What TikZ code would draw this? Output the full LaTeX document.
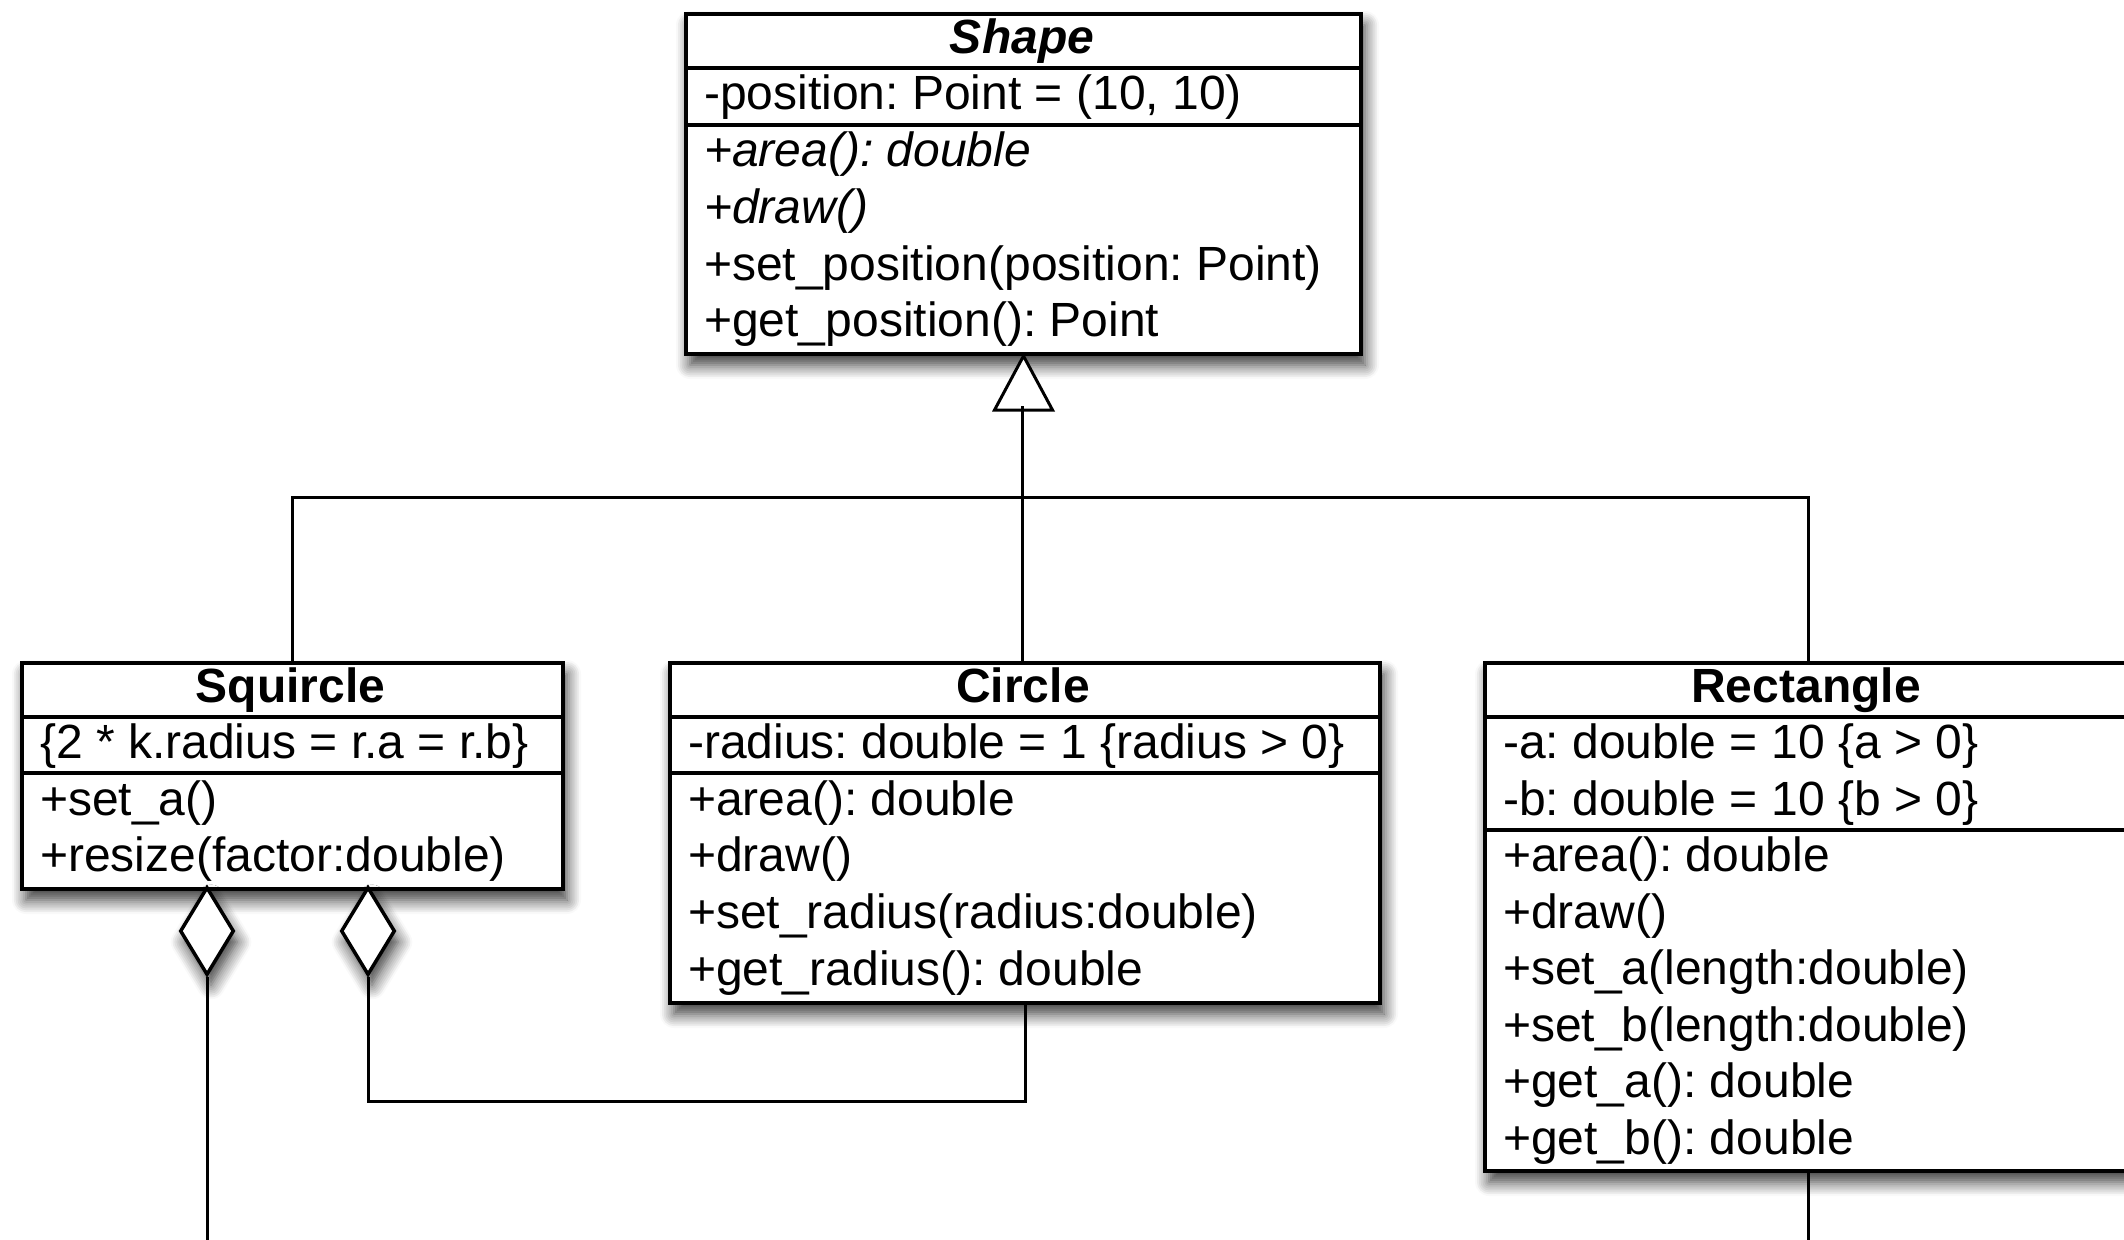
\documentclass[tikz,border=0pt]{standalone}
\usepackage{fontspec}
\setmainfont{Liberation Sans}
\usetikzlibrary{shapes.geometric,shadows.blur}
\frenchspacing
\tikzset{
  shd/.style={blur shadow={shadow xshift=4pt, shadow yshift=-11pt, shadow blur radius=14pt, shadow opacity=80, shadow blur steps=8}},
  cls/.style={draw=black, line width=4pt, fill=white, anchor=north west, inner sep=0pt, shd},
  sepline/.style={line width=4pt},
  txt/.style={anchor=base west, inner sep=0pt, font=\fontsize{48}{56}\selectfont},
  ttl/.style={anchor=base, inner sep=0pt, font=\fontsize{48}{56}\selectfont\bfseries},
  conn/.style={line width=3pt},
  agg/.style={diamond, draw=black, line width=3.5pt, fill=white, minimum width=54pt, minimum height=88pt, inner sep=0pt, shd},
}
\begin{document}
\begin{tikzpicture}[x=1pt,y=-1pt]
\useasboundingbox (0,0) rectangle (2124,1239);
\clip (0,0) rectangle (2124,1239);
% Shape
\node[cls, minimum width=675pt, minimum height=340pt] (shape) at (684,12) {};
\draw[sepline] (shape.west |- 0,68) -- (shape.east |- 0,68);
\draw[sepline] (shape.west |- 0,125) -- (shape.east |- 0,125);
\node[ttl, font=\fontsize{48}{56}\selectfont\bfseries\itshape] (shapeT) at (1022,53) {Shape};
\node[txt] (shapeA1) at (704,109) {-position: Point = (10, 10)};
\node[txt, font=\fontsize{48}{56}\selectfont\itshape] (shapeM1) at (704,166) {+area(): double};
\node[txt, font=\fontsize{48}{56}\selectfont\itshape] (shapeM2) at (704,223) {+draw()};
\node[txt] (shapeM3) at (704,280) {+set\_position(position: Point)};
\node[txt] (shapeM4) at (704,336) {+get\_position(): Point};
% Squircle
\node[cls, minimum width=541pt, minimum height=226pt] (sq) at (20,661) {};
\draw[sepline] (sq.west |- 0,717) -- (sq.east |- 0,717);
\draw[sepline] (sq.west |- 0,773) -- (sq.east |- 0,773);
\node[ttl] (sqT) at (290.5,702) {Squircle};
\node[txt] (sqA1) at (40,758) {\{2 * k.radius = r.a = r.b\}};
\node[txt] (sqM1) at (40,815) {+set\_a()};
\node[txt] (sqM2) at (40,871) {+resize(factor:double)};
% Circle
\node[cls, minimum width=710pt, minimum height=340pt] (ci) at (668,661) {};
\draw[sepline] (ci.west |- 0,717) -- (ci.east |- 0,717);
\draw[sepline] (ci.west |- 0,773) -- (ci.east |- 0,773);
\node[ttl] (ciT) at (1023,702) {Circle};
\node[txt] (ciA1) at (688,758) {-radius: double = 1 \{radius > 0\}};
\node[txt] (ciM1) at (688,815) {+area(): double};
\node[txt] (ciM2) at (688,871) {+draw()};
\node[txt] (ciM3) at (688,928) {+set\_radius(radius:double)};
\node[txt] (ciM4) at (688,985) {+get\_radius(): double};
% Rectangle
\node[cls, minimum width=646pt, minimum height=508pt] (re) at (1483,661) {};
\draw[sepline] (re.west |- 0,717) -- (re.east |- 0,717);
\draw[sepline] (re.west |- 0,830) -- (re.east |- 0,830);
\node[ttl] (reT) at (1806,702) {Rectangle};
\node[txt] (reA1) at (1503,758) {-a: double = 10 \{a > 0\}};
\node[txt] (reA2) at (1503,815) {-b: double = 10 \{b > 0\}};
\node[txt] (reM1) at (1503,871) {+area(): double};
\node[txt] (reM2) at (1503,928) {+draw()};
\node[txt] (reM3) at (1503,984) {+set\_a(length:double)};
\node[txt] (reM4) at (1503,1041) {+set\_b(length:double)};
\node[txt] (reM5) at (1503,1097) {+get\_a(): double};
\node[txt] (reM6) at (1503,1154) {+get\_b(): double};
% aggregation diamonds
\node[agg] (d1) at (207,931) {};
\node[agg] (d2) at (368,931) {};
% coordinates
\coordinate (tri) at (1022,406);
\coordinate (hbar) at (1022,497);
\coordinate (bot) at (0,1245);
% generalization
\draw[conn, fill=white] (shape.south) -- ++(29,54) -- ++(-58,0) -- cycle;
\draw[conn] (tri) -- (tri |- ci.north);
\draw[conn] (sq.north) -- (sq.north |- hbar) -- (re.north |- hbar) -- (re.north);
% aggregations
\draw[conn] (d1.south) -- (d1.south |- bot);
\draw[conn] (d2.south) -- ++(0,125) -| (ci.south);
\draw[conn] (re.south) -- (re.south |- bot);
\end{tikzpicture}
\end{document}
